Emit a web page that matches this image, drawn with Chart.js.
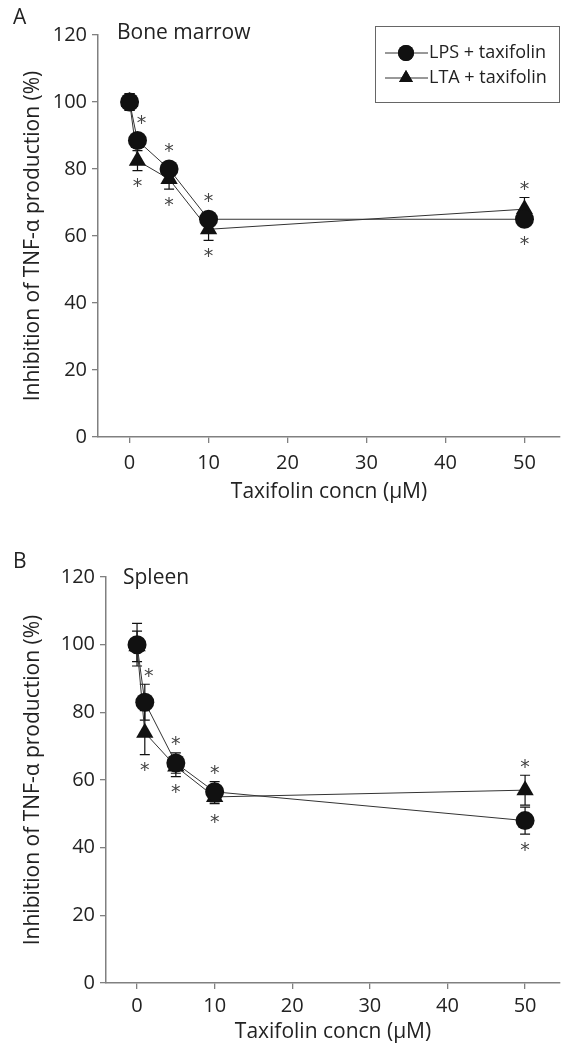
<!DOCTYPE html>
<html>
<head>
<meta charset="utf-8">
<script src="https://cdn.jsdelivr.net/npm/chart.js@4/dist/chart.umd.min.js"></script>
<style>
  body { margin: 0; background: #fff; }
  #wrap { position: relative; width: 570px; height: 1045px; font-family: "Open Sans", sans-serif; color: #222; }
  canvas { position: absolute; left: 0; }
  .lbl { position: absolute; font-size: 21px; line-height: 1; }
</style>
</head>
<body>
<div id="wrap">
  <canvas id="chartA" width="570" height="512" style="top:0"></canvas>
  <canvas id="chartB" width="570" height="525" style="top:520px"></canvas>
  <div class="lbl" style="left:13px; top:6px;">A</div>
  <div class="lbl" style="left:117px; top:21px;">Bone marrow</div>
  <div class="lbl" style="left:13px; top:550px;">B</div>
  <div class="lbl" style="left:123px; top:566px;">Spleen</div>
</div>
<script>
// concentrations (µM)
const concn = [0, 1, 5, 10, 50];
const xTicks = [0, 10, 20, 30, 40, 50];

// A - bone marrow
const lpsBone = [100, 88.5, 80, 65, 65];
const lpsBoneErr = [2.5, 1.5, 1.5, 1.5, 1.5];
const ltaBone = [100, 82.5, 77, 62, 68];
const ltaBoneErr = [2.5, 3, 3, 3.3, 3.5];

// B - spleen
const lpsSpleen = [100, 83, 65, 56.5, 48];
const lpsSpleenErr = [6.3, 5.3, 3, 3, 4];
const ltaSpleen = [99.5, 74, 64, 55, 57];
const ltaSpleenErr = [4.5, 6.5, 3, 2, 4.4];

const font = "'Open Sans', sans-serif";
const ink = '#111';
const axisGrey = '#808080';

function pts(vals) {
    return concn.map((c, i) => ({x: c, y: vals[i]}));
}

// error bars, asterisks and legend
const marks = {
    id: 'marks',
    beforeDatasetsDraw(chart, args, opts) {
        const {ctx, scales: {x, y}} = chart;
        ctx.save();
        ctx.strokeStyle = ink;
        ctx.lineWidth = 1.2;
        opts.errors.forEach((errs, d) => {
            chart.data.datasets[d].data.forEach((p, i) => {
                const px = x.getPixelForValue(p.x);
                const t = y.getPixelForValue(p.y + errs[i]);
                const b = y.getPixelForValue(p.y - errs[i]);
                ctx.beginPath();
                ctx.moveTo(px, t); ctx.lineTo(px, b);
                ctx.moveTo(px - 5, t); ctx.lineTo(px + 5, t);
                ctx.moveTo(px - 5, b); ctx.lineTo(px + 5, b);
                ctx.stroke();
            });
        });
        ctx.restore();
    },
    afterDatasetsDraw(chart, args, opts) {
        const {ctx, scales: {x, y}} = chart;
        ctx.save();
        ctx.fillStyle = '#444';
        ctx.font = "19px 'DejaVu Sans'";
        ctx.textAlign = 'center';
        ctx.textBaseline = 'alphabetic';
        const m = ctx.measureText('*');
        const mid = (m.actualBoundingBoxAscent - m.actualBoundingBoxDescent) / 2;
        for (let i = 1; i < concn.length; i++) {
            let hi = Infinity, lo = -Infinity;
            opts.errors.forEach((errs, d) => {
                const p = chart.data.datasets[d].data[i];
                const r = chart.data.datasets[d].pointRadius;
                hi = Math.min(hi, y.getPixelForValue(p.y + errs[i]), y.getPixelForValue(p.y) - r);
                lo = Math.max(lo, y.getPixelForValue(p.y - errs[i]), y.getPixelForValue(p.y) + r);
            });
            const px = x.getPixelForValue(concn[i]);
            ctx.fillText('*', px + (i === 1 ? 4 : 0), hi - 12 + mid);
            ctx.fillText('*', px, lo + 12 + mid);
        }
        ctx.restore();
    },
    afterDraw(chart, args, opts) {
        if (!opts.legend) return;
        const ctx = chart.ctx;
        ctx.save();
        ctx.strokeStyle = '#666';
        ctx.lineWidth = 1;
        ctx.strokeRect(375.5, 26.5, 184, 76);
        chart.data.datasets.forEach((ds, k) => {
            const ly = 53 + k * 25;
            ctx.strokeStyle = '#333';
            ctx.lineWidth = 1;
            ctx.beginPath();
            ctx.moveTo(385, ly); ctx.lineTo(428, ly);
            ctx.stroke();
            ctx.fillStyle = ink;
            Chart.helpers.drawPoint(ctx, {pointStyle: ds.pointStyle, radius: 8, rotation: 0, borderWidth: 0}, 406, ly);
            ctx.fill();
            ctx.fillStyle = '#222';
            ctx.font = "18px " + font;
            ctx.textAlign = 'left';
            ctx.textBaseline = 'middle';
            ctx.fillText(ds.label, 429, ly);
        });
        ctx.restore();
    }
};

function makeChart(id, lps, lpsErr, lta, ltaErr, box) {
    return new Chart(document.getElementById(id), {
        type: 'line',
        data: {
            datasets: [
                {
                    label: 'LPS + taxifolin',
                    data: pts(lps),
                    borderColor: '#333',
                    borderWidth: 1,
                    pointStyle: 'circle',
                    pointRadius: 9.5,
                    pointBackgroundColor: ink,
                    pointBorderColor: ink,
                    pointBorderWidth: 0
                },
                {
                    label: 'LTA + taxifolin',
                    data: pts(lta),
                    borderColor: '#333',
                    borderWidth: 1,
                    pointStyle: 'triangle',
                    pointRadius: 10,
                    pointBackgroundColor: ink,
                    pointBorderColor: ink,
                    pointBorderWidth: 0
                }
            ]
        },
        options: {
            responsive: false,
            animation: false,
            layout: {padding: {top: box.top, left: 0, right: box.right, bottom: 0}},
            plugins: {
                legend: {display: false},
                tooltip: {enabled: false},
                marks: {errors: [lpsErr, ltaErr], legend: box.legend}
            },
            scales: {
                x: {
                    type: 'linear',
                    min: -4,
                    max: 54.5,
                    afterBuildTicks: s => { s.ticks = xTicks.map(v => ({value: v})); },
                    afterFit: s => { s.height = box.xh; },
                    grid: {drawOnChartArea: false, tickLength: 6, color: axisGrey, lineWidth: 1.3},
                    border: {color: axisGrey, width: 1.5},
                    ticks: {font: {size: 20, family: font}, color: '#222', padding: box.tp, maxRotation: 0},
                    title: {display: true, text: 'Taxifolin concn (μM)', font: {size: 21, family: font}, color: '#222', padding: {top: 0, bottom: box.tb}}
                },
                y: {
                    min: 0,
                    max: 120,
                    afterFit: s => { s.width = box.yw; },
                    grid: {drawOnChartArea: false, tickLength: 6, color: axisGrey, lineWidth: 1.3},
                    border: {color: axisGrey, width: 1.5},
                    ticks: {stepSize: 20, font: {size: 20, family: font}, color: '#222', padding: 5},
                    title: {display: true, text: 'Inhibition of TNF-α production (%)', font: {size: 21, family: font}, color: '#222', padding: {top: 20}}
                }
            }
        },
        plugins: [marks]
    });
}

makeChart('chartA', lpsBone, lpsBoneErr, ltaBone, ltaBoneErr,
    {top: 35, right: 9, xh: 75, yw: 98, tp: 8, tb: 7, legend: true});
makeChart('chartB', lpsSpleen, lpsSpleenErr, ltaSpleen, ltaSpleenErr,
    {top: 57, right: 5, xh: 62, yw: 106, tp: 5, tb: 0, legend: false});
</script>
</body>
</html>
